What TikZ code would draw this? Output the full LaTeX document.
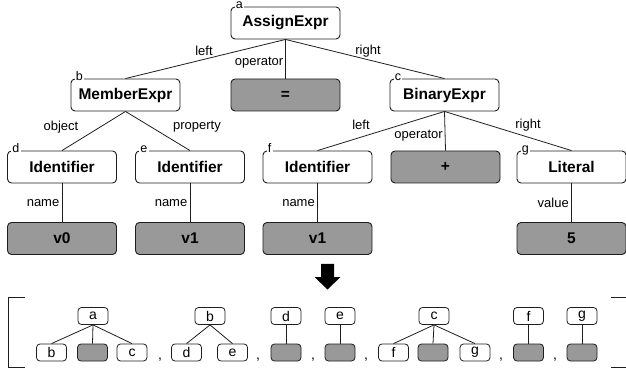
\documentclass[tikz,border=0pt]{standalone}
\usepackage{fontspec}
\setmainfont{Liberation Sans}
\definecolor{boxgray}{RGB}{153,153,153}
\definecolor{edgec}{RGB}{30,30,30}
\tikzset{
  big/.style={draw=edgec, line width=0.9pt, rounded corners=4pt, minimum width=109pt, minimum height=32pt, inner sep=0pt, font=\bfseries\fontsize{15.5}{18}\selectfont},
  bigg/.style={big, fill=boxgray},
  sm/.style={draw=edgec, line width=0.8pt, rounded corners=3.5pt, minimum width=30pt, minimum height=17pt, inner sep=0pt, font=\fontsize{14}{16}\selectfont},
  smg/.style={sm, fill=boxgray},
  elab/.style={font=\fontsize{13}{15}\selectfont, inner sep=0pt},
  tag/.style={font=\fontsize{12.5}{14}\selectfont, fill=white, inner sep=1.2pt, anchor=base west},
  conn/.style={draw=edgec, line width=0.8pt},
  comma/.style={font=\fontsize{14}{16}\selectfont, inner sep=0pt, anchor=base}
}
\begin{document}
\begin{tikzpicture}[x=1pt,y=-1pt]
\useasboundingbox (0,0) rectangle (626,371);
% top tree
\node[big] (A) at (285.5,23) {AssignExpr};
\node[big] (B) at (125.5,95) {MemberExpr};
\node[bigg] (Eq) at (285.5,95) {=};
\node[big] (C) at (444.5,95) {BinaryExpr};
\node[big] (D) at (62,167) {Identifier};
\node[big] (E) at (190,167) {Identifier};
\node[big] (F) at (317.5,167) {Identifier};
\node[bigg] (Plus) at (445.5,167) {+};
\node[big] (G) at (571.5,167) {Literal};
\node[bigg] (V0) at (62,238.5) {v0};
\node[bigg] (V1a) at (190,238.5) {v1};
\node[bigg] (V1b) at (317.5,238.5) {v1};
\node[bigg] (Five) at (571.5,238.5) {5};
% tags
\foreach \n/\t in {A/a,B/b,C/c,D/d,E/e,F/f,G/g}{
  \node[tag] at ([xshift=4pt,yshift=-2pt]\n.north west) {\t};
}
% edges
\draw[conn] (A.south) -- (B.north);
\draw[conn] (A.south) -- (Eq.north);
\draw[conn] (A.south) -- (C.north);
\draw[conn] (B.south) -- (D.north);
\draw[conn] (B.south) -- (E.north);
\draw[conn] (C.south) -- (F.north);
\draw[conn] (C.south) -- (Plus.north);
\draw[conn] (C.south) -- (G.north);
\draw[conn] (D.south) -- (V0.north);
\draw[conn] (E.south) -- (V1a.north);
\draw[conn] (F.south) -- (V1b.north);
\draw[conn] (G.south) -- (Five.north);
% edge labels
\node[elab] (l1) at (204,51) {left};
\node[elab,anchor=east] (l2) at (283.5,63) {operator};
\node[elab] (l3) at (368,51) {right};
\node[elab] (l4) at (61,127) {object};
\node[elab] (l5) at (197,127) {property};
\node[elab,anchor=east] (l6) at (59.5,203) {name};
\node[elab,anchor=east] (l7) at (187.5,203) {name};
\node[elab,anchor=east] (l8) at (315,203) {name};
\node[elab] (l9) at (361,125) {left};
\node[elab,anchor=east] (l10) at (443,136) {operator};
\node[elab] (l11) at (528,125) {right};
\node[elab,anchor=east] (l12) at (569,203) {value};
% arrow
\fill[black] (321,264) -- (334,264) -- (334,277) -- (340.5,277) -- (327.5,289.5) -- (314.5,277) -- (321,277) -- cycle;
% brackets
\draw[conn] (25,297.5) -- (8.5,297.5) -- (8.5,367.5) -- (25,367.5);
\draw[conn] (611,297.5) -- (627,297.5) -- (627,367.5) -- (611,367.5);
% bottom sequence
\node[sm] (sa) at (93,316) {a};
\node[sm] (sab) at (51.5,352.5) {b};
\node[smg] (sag) at (92.5,352.5) {};
\node[sm] (sac) at (132,352.5) {c};
\draw[conn] (sa.south) -- (sab.north);
\draw[conn] (sa.south) -- (sag.north);
\draw[conn] (sa.south) -- (sac.north);
\node[comma] (c1) at (160,359) {,};
\node[sm] (sb) at (210,316) {b};
\node[sm] (sbd) at (186.5,352.5) {d};
\node[sm] (sbe) at (232.5,352.5) {e};
\draw[conn] (sb.south) -- (sbd.north);
\draw[conn] (sb.south) -- (sbe.north);
\node[comma] (c2) at (258,359) {,};
\node[sm] (sd) at (286,316) {d};
\node[smg] (sdg) at (286,352.5) {};
\draw[conn] (sd.south) -- (sdg.north);
\node[comma] (c3) at (313,359) {,};
\node[sm] (se) at (340,316) {e};
\node[smg] (seg) at (340,352.5) {};
\draw[conn] (se.south) -- (seg.north);
\node[comma] (c4) at (366,359) {,};
\node[sm] (sc) at (434,316) {c};
\node[sm] (scf) at (393.5,352.5) {f};
\node[smg] (scg) at (433,352.5) {};
\node[sm] (scgg) at (475,352.5) {g};
\draw[conn] (sc.south) -- (scf.north);
\draw[conn] (sc.south) -- (scg.north);
\draw[conn] (sc.south) -- (scgg.north);
\node[comma] (c5) at (501,359) {,};
\node[sm] (sf) at (528.5,316) {f};
\node[smg] (sfg) at (528.5,352.5) {};
\draw[conn] (sf.south) -- (sfg.north);
\node[comma] (c6) at (555,359) {,};
\node[sm] (sg) at (582,316) {g};
\node[smg] (sgg) at (582,352.5) {};
\draw[conn] (sg.south) -- (sgg.north);
\end{tikzpicture}
\end{document}
